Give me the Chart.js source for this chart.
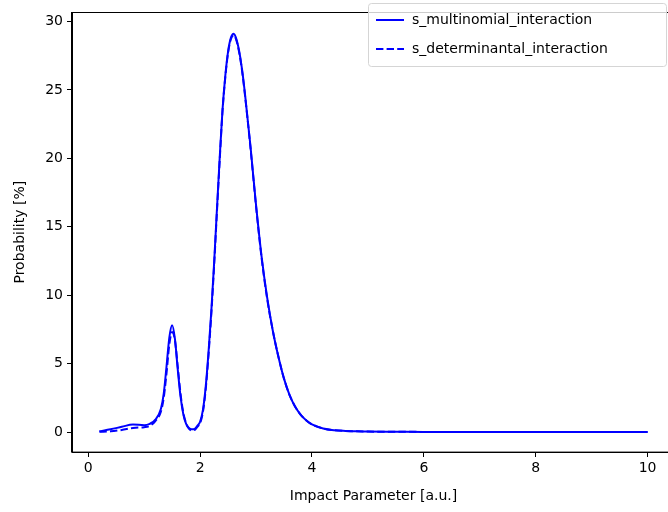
<!DOCTYPE html>
<html lang="en">
<head>
<meta charset="UTF-8">
<script src="https://cdn.jsdelivr.net/npm/chart.js"></script>
<title>Probability vs impact parameter</title>
<style>
  html, body { margin: 0; padding: 0; background: #fff; overflow: hidden; }
  #wrap { width: 668px; height: 512px; overflow: hidden; position: relative; }
  #myChart { position: absolute; left: 0; top: 0; }
</style>
</head>
<body>
<div id="wrap">
  <canvas id="myChart" width="680" height="512" style="width:680px;height:512px;"></canvas>
</div>
<script>
// impact parameter b [a.u.]
const impactParam = [0.2, 0.4, 0.6, 0.8, 1.0, 1.1, 1.2, 1.3, 1.35, 1.4, 1.45, 1.5, 1.55, 1.6, 1.65, 1.7, 1.75, 1.8, 1.85, 1.9, 1.95,
  2.0, 2.05, 2.1, 2.15, 2.2, 2.25, 2.3, 2.35, 2.4, 2.45, 2.5, 2.55, 2.6, 2.65, 2.7, 2.75, 2.8, 2.9,
  3.0, 3.1, 3.2, 3.3, 3.4, 3.5, 3.6, 3.7, 3.8, 3.9, 4.0, 4.2, 4.4, 4.6, 4.8, 5.0, 5.5, 6, 7, 8, 9, 10];

// probability [%]
const multinomial = [0.05, 0.2, 0.38, 0.55, 0.5, 0.6, 0.9, 1.7, 2.8, 4.8, 6.9, 7.8, 6.8, 4.6, 2.6, 1.3, 0.6, 0.3, 0.2, 0.22, 0.45,
  0.75, 1.6, 3.3, 5.8, 8.8, 12.3, 16.2, 20.0, 23.5, 26.0, 27.8, 28.8, 29.1, 28.7, 27.8, 26.5, 24.8, 20.9,
  16.6, 12.8, 9.8, 7.4, 5.5, 3.9, 2.7, 1.85, 1.26, 0.85, 0.56, 0.26, 0.13, 0.08, 0.05, 0.03, 0.02, 0.01, 0.01, 0, 0, 0];

const determinantal = [0.02, 0.05, 0.15, 0.3, 0.35, 0.45, 0.8, 1.5, 2.5, 4.3, 6.4, 7.3, 6.7, 4.8, 2.8, 1.4, 0.65, 0.25, 0.12, 0.15, 0.38,
  0.65, 1.45, 3.1, 5.6, 8.6, 12.1, 16.0, 19.8, 23.4, 25.9, 27.7, 28.7, 29.0, 28.6, 27.7, 26.4, 24.7, 20.8,
  16.5, 12.7, 9.7, 7.4, 5.5, 3.9, 2.7, 1.85, 1.26, 0.85, 0.56, 0.26, 0.13, 0.08, 0.05, 0.03, 0.02, 0.01, 0.01, 0, 0, 0];

const xTicks = [0, 2, 4, 6, 8, 10];
const yTicks = [0, 5, 10, 15, 20, 25, 30];

const legendLabels = ['s_multinomial_interaction', 's_determinantal_interaction'];

const fontFamily = '"DejaVu Sans", sans-serif';

function toPoints(xs, ys) {
    let pts = [];
    for (let i = 0; i < xs.length; i++) {
        pts.push({ x: xs[i], y: ys[i] });
    }
    return pts;
}

// frame (spines) + legend box, matplotlib style
const framePlugin = {
    id: 'frame',
    afterDraw(chart) {
        const ctx = chart.ctx;
        const a = chart.chartArea;
        ctx.save();
        ctx.strokeStyle = '#000';
        ctx.lineWidth = 1;
        ctx.strokeRect(Math.round(a.left) - 0.5, Math.round(a.top) + 0.5, a.right - a.left + 1, a.bottom - a.top);

        // legend
        const bx = 368.5, by = 3.5, bw = 298, bh = 63, r = 3;
        ctx.beginPath();
        ctx.moveTo(bx + r, by);
        ctx.lineTo(bx + bw - r, by);
        ctx.arcTo(bx + bw, by, bx + bw, by + r, r);
        ctx.lineTo(bx + bw, by + bh - r);
        ctx.arcTo(bx + bw, by + bh, bx + bw - r, by + bh, r);
        ctx.lineTo(bx + r, by + bh);
        ctx.arcTo(bx, by + bh, bx, by + bh - r, r);
        ctx.lineTo(bx, by + r);
        ctx.arcTo(bx, by, bx + r, by, r);
        ctx.closePath();
        ctx.fillStyle = 'rgba(255,255,255,0.8)';
        ctx.fill();
        ctx.strokeStyle = '#d5d5d5';
        ctx.stroke();

        ctx.font = '14px ' + fontFamily;
        ctx.textBaseline = 'middle';
        ctx.fillStyle = '#000';
        const rows = [20, 49];
        for (let i = 0; i < legendLabels.length; i++) {
            ctx.beginPath();
            ctx.strokeStyle = '#0000ff';
            ctx.lineWidth = 2;
            ctx.setLineDash(i === 0 ? [] : [7.4, 3.2]);
            ctx.moveTo(376, rows[i]);
            ctx.lineTo(404, rows[i]);
            ctx.stroke();
            ctx.setLineDash([]);
            ctx.fillText(legendLabels[i], 412, rows[i]);
        }
        ctx.restore();
    }
};

const config = {
    type: 'line',
    data: {
        datasets: [
            {
                label: legendLabels[0],
                data: toPoints(impactParam, multinomial),
                borderColor: '#0000ff',
                borderWidth: 2,
                pointRadius: 0,
                fill: false,
                cubicInterpolationMode: 'monotone',
                order: 1
            },
            {
                label: legendLabels[1],
                data: toPoints(impactParam, determinantal),
                borderColor: '#0000ff',
                borderWidth: 2,
                borderDash: [7.4, 3.2],
                pointRadius: 0,
                fill: false,
                cubicInterpolationMode: 'monotone',
                order: 0
            }
        ]
    },
    options: {
        responsive: false,
        devicePixelRatio: 1,
        animation: false,
        layout: { padding: { top: 1, right: 5, left: 0, bottom: 0 } },
        plugins: {
            legend: { display: false },
            tooltip: { enabled: false }
        },
        scales: {
            x: {
                type: 'linear',
                min: -0.29,
                max: 10.49,
                afterBuildTicks(scale) { scale.ticks = xTicks.map(v => ({ value: v })); },
                afterFit(scale) { scale.height = 60; },
                grid: { display: true, drawOnChartArea: false, drawTicks: true, tickLength: 5, color: '#000' },
                border: { display: true, color: '#000' },
                ticks: { color: '#000', padding: 3, maxRotation: 0, font: { size: 14, family: fontFamily } },
                title: {
                    display: true,
                    text: 'Impact Parameter [a.u.]',
                    color: '#000',
                    font: { size: 14, family: fontFamily },
                    padding: { top: 0, bottom: 7 }
                }
            },
            y: {
                type: 'linear',
                min: -1.46,
                max: 30.66,
                afterBuildTicks(scale) { scale.ticks = yTicks.map(v => ({ value: v })); },
                afterFit(scale) { scale.width = 72; },
                grid: { display: true, drawOnChartArea: false, drawTicks: true, tickLength: 5, color: '#000' },
                border: { display: true, color: '#000' },
                ticks: { color: '#000', padding: 4, font: { size: 14, family: fontFamily } },
                title: {
                    display: true,
                    text: 'Probability [%]',
                    color: '#000',
                    font: { size: 14, family: fontFamily },
                    padding: { top: 12, bottom: 0 }
                }
            }
        }
    },
    plugins: [framePlugin]
};

let myChart = new Chart(document.getElementById('myChart').getContext('2d'), config);
</script>
</body>
</html>
